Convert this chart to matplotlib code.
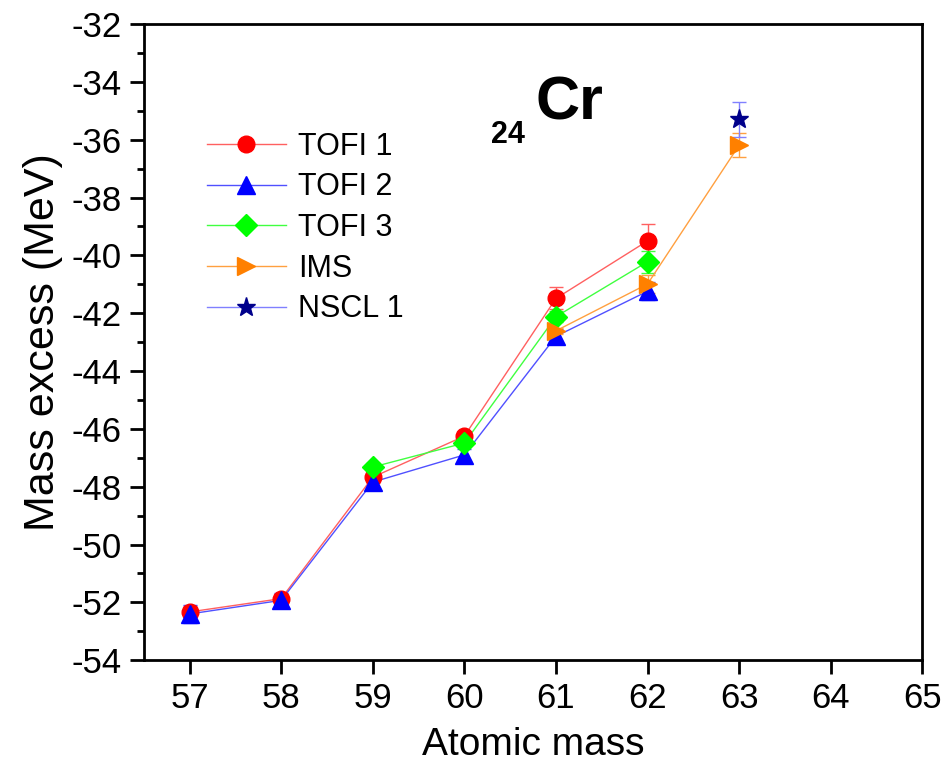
import matplotlib
matplotlib.use('Agg')
import matplotlib.pyplot as plt
from matplotlib.ticker import MultipleLocator

plt.rcParams['font.family'] = ['Liberation Sans', 'DejaVu Sans']
plt.rcParams['axes.unicode_minus'] = False

# Mass excess data for 24Cr isotopes (MeV)
tofi1_a = [57, 58, 59, 60, 61, 62]
tofi1_m = [-52.33, -51.87, -47.67, -46.25, -41.49, -39.50]
tofi1_e = [0.20, 0.15, 0.20, 0.15, 0.38, 0.58]

tofi2_a = [57, 58, 59, 60, 61, 62]
tofi2_m = [-52.40, -51.93, -47.84, -46.90, -42.80, -41.24]
tofi2_e = [0.30, 0.25, 0.25, 0.20, 0.25, 0.32]

tofi3_a = [59, 60, 61, 62]
tofi3_m = [-47.32, -46.49, -42.12, -40.22]
tofi3_e = [0.15, 0.15, 0.20, 0.38]

ims_a = [61, 62, 63]
ims_m = [-42.61, -40.99, -36.19]
ims_e = [0.10, 0.30, 0.42]

nscl_a = [63]
nscl_m = [-35.30]
nscl_e = [0.60]

series = [
    ('TOFI 1', tofi1_a, tofi1_m, tofi1_e, 'red', '#ff6060', 'o', 12),
    ('TOFI 2', tofi2_a, tofi2_m, tofi2_e, 'blue', '#5050ff', '^', 13),
    ('TOFI 3', tofi3_a, tofi3_m, tofi3_e, '#00ff00', '#40ff40', 'D', 11),
    ('IMS', ims_a, ims_m, ims_e, '#ff8000', '#ffa040', '>', 13),
    ('NSCL 1', nscl_a, nscl_m, nscl_e, '#00008b', '#8080ff', '*', 14),
]

fig = plt.figure(figsize=(9.46, 7.74), dpi=100)
ax = fig.add_axes([0.152, 0.147, 0.823, 0.822])

for label, a, m, e, mcolor, lcolor, marker, ms in series:
    ax.errorbar(a, m, yerr=e, fmt='none', ecolor=lcolor, elinewidth=1.0,
                capsize=5, capthick=1.0, zorder=2)
    ax.plot(a, m, color=lcolor, linewidth=1.0, zorder=2)
    ax.plot(a, m, linestyle='none', marker=marker, markersize=ms,
            color=mcolor, markeredgecolor=mcolor, zorder=3)
    # legend proxy
    ax.plot([], [], color=lcolor, linewidth=1.0, marker=marker,
            markersize=ms, markerfacecolor=mcolor, markeredgecolor=mcolor,
            label=label)

ax.set_xlim(56.5, 65)
ax.set_ylim(-54, -32)
ax.xaxis.set_major_locator(MultipleLocator(1))
ax.yaxis.set_major_locator(MultipleLocator(2))
ax.yaxis.set_minor_locator(MultipleLocator(1))

ax.tick_params(axis='both', which='major', direction='out', length=10,
               width=2, labelsize=25, pad=6)
ax.tick_params(axis='y', which='minor', direction='out', length=5, width=2)
for sp in ax.spines.values():
    sp.set_linewidth(2)

ax.set_xlabel('Atomic mass', fontsize=28, labelpad=8)
ax.set_ylabel('Mass excess (MeV)', fontsize=31, labelpad=6)

ax.legend(loc='upper left', bbox_to_anchor=(0.065, 0.85), frameon=False,
          fontsize=22, handlelength=2.6, handletextpad=0.4,
          labelspacing=0.35, borderaxespad=0)

fig.text(0.519, 0.815, '24', fontsize=22, fontweight='bold', ha='left',
         va='baseline')
fig.text(0.566, 0.845, 'Cr', fontsize=44, fontweight='bold', ha='left',
         va='baseline')

plt.savefig('out.png', dpi=100)
plt.close()
